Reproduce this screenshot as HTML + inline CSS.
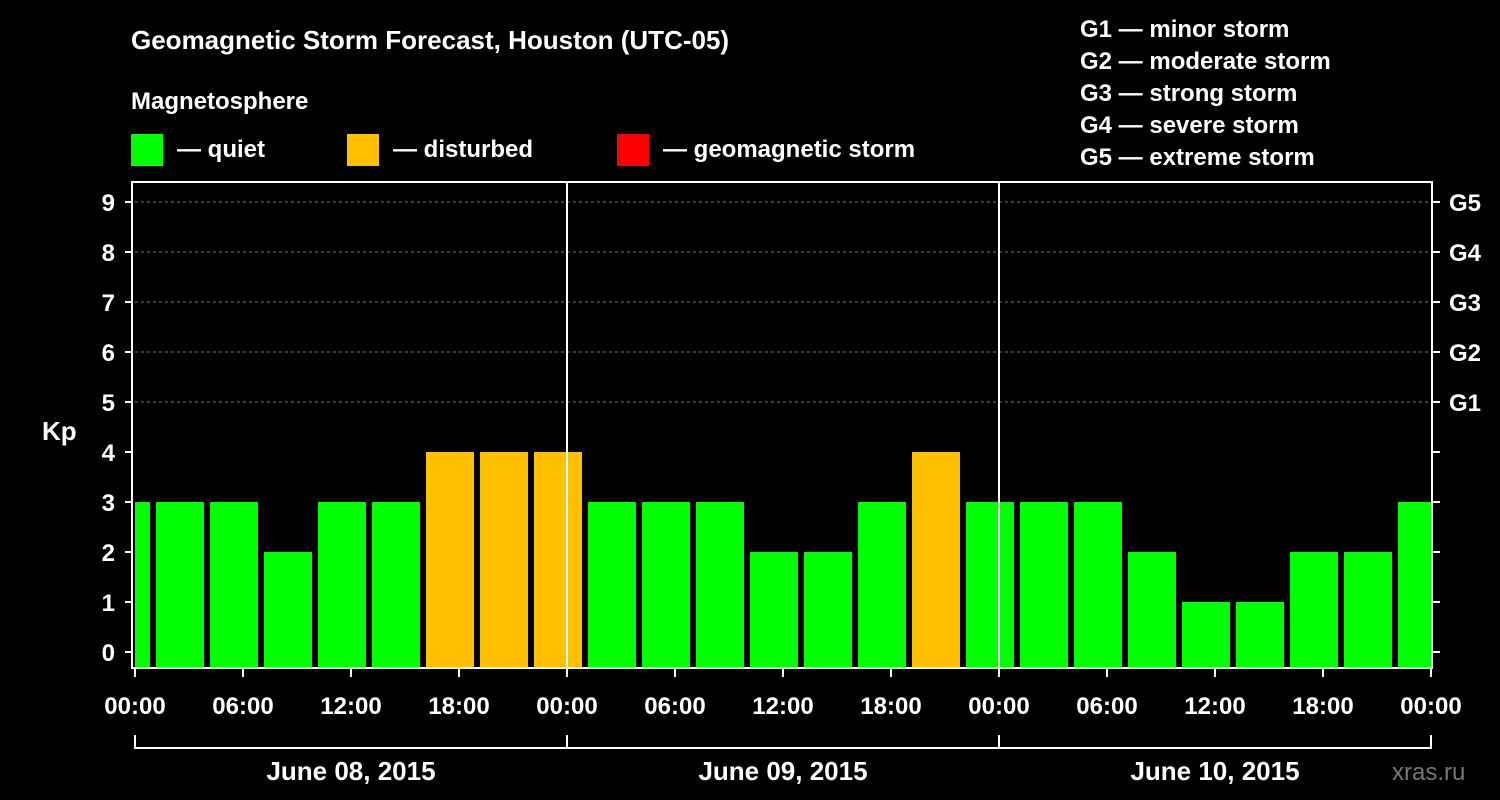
<!DOCTYPE html>
<html><head><meta charset="utf-8"><style>
body{margin:0;background:#000;}
svg{display:block;font-family:"Liberation Sans",Arial,sans-serif;font-weight:bold;}
</style></head><body>
<svg id="c" width="1500" height="800" xmlns="http://www.w3.org/2000/svg">
<rect width="1500" height="800" fill="#000"/>
<text x="131" y="49" fill="#fff" font-size="26">Geomagnetic Storm Forecast, Houston (UTC-05)</text>
<text x="131" y="109" fill="#fff" font-size="24">Magnetosphere</text>
<g><rect x="131" y="134" width="32" height="32" fill="#00ff00"/><text x="177" y="157" fill="#fff" font-size="24">— quiet</text></g>
<g><rect x="347" y="134" width="32" height="32" fill="#ffc000"/><text x="393" y="157" fill="#fff" font-size="24">— disturbed</text></g>
<g><rect x="617" y="134" width="32" height="32" fill="#ff0000"/><text x="663" y="157" fill="#fff" font-size="24">— geomagnetic storm</text></g>
<g fill="#fff" font-size="24">
<text x="1080" y="37">G1 — minor storm</text><text x="1080" y="69">G2 — moderate storm</text><text x="1080" y="101">G3 — strong storm</text><text x="1080" y="133">G4 — severe storm</text><text x="1080" y="165">G5 — extreme storm</text></g>
<g id="grid"></g><g id="bars"></g><g id="axes"></g>
<text x="42" y="440" fill="#fff" font-size="26">Kp</text>
<text x="1392" y="780" fill="#777" font-size="24" font-weight="normal">xras.ru</text>
</svg>
<script>
const kpValues=[3,3,3,2,3,3,4,4,4,3,3,3,2,2,3,4,3,3,3,2,1,1,2,2,3];
const kpStartHours=[-2,1,4,7,10,13,16,19,22,25,28,31,34,37,40,43,46,49,52,55,58,61,64,67,70];
const dayLabels=["June 08, 2015","June 09, 2015","June 10, 2015"];
const xTickLabels=["00:00","06:00","12:00","18:00","00:00","06:00","12:00","18:00","00:00","06:00","12:00","18:00","00:00"];
const yTicks=[0,1,2,3,4,5,6,7,8,9];
const gLabels=[[5,"G1"],[6,"G2"],[7,"G3"],[8,"G4"],[9,"G5"]];
const NS="http://www.w3.org/2000/svg";
const X0=135,PXH=18,TOTAL=72,PT=182,PB=668;
const x=h=>X0+h*PXH, y=v=>652-v*50;
function mk(p,t,a){const e=document.createElementNS(NS,t);for(const k in a)e.setAttribute(k,a[k]);p.appendChild(e);return e;}
const grid=document.getElementById('grid'),bars=document.getElementById('bars'),axes=document.getElementById('axes');
[5,6,7,8,9].forEach(v=>{const l=mk(grid,'line',{x1:x(0),x2:x(TOTAL),y1:y(v),y2:y(v),stroke:'#777','stroke-dasharray':'3,3'});

});
kpValues.forEach((v,i)=>{const s=Math.max(0,kpStartHours[i]),e=Math.min(TOTAL,kpStartHours[i]+3);
let x1=x(s)+(kpStartHours[i]<0?0:3),x2=x(e)-(kpStartHours[i]+3>TOTAL?0:3);
const c=v>=5?'#ff0000':v>=4?'#ffc000':'#00ff00';
const r=mk(bars,'rect',{x:x1,y:y(v),width:x2-x1,height:PB-y(v),fill:c});

});
mk(axes,'rect',{x:x(0)-3,y:PT,width:x(TOTAL)-x(0)+4,height:PB-PT,fill:'none',stroke:'#fff','stroke-width':2});
[24,48].forEach(h=>mk(axes,'line',{x1:x(h),x2:x(h),y1:PT,y2:PB,stroke:'#fff','stroke-width':2}));
yTicks.forEach(v=>{mk(axes,'line',{x1:x(0)-10,x2:x(0)-3,y1:y(v),y2:y(v),stroke:'#fff','stroke-width':2});
mk(axes,'line',{x1:x(TOTAL)+1,x2:x(TOTAL)+9,y1:y(v),y2:y(v),stroke:'#fff','stroke-width':2});
const t=mk(axes,'text',{x:x(0)-20,y:y(v)+9,fill:'#fff','font-size':24,'text-anchor':'end'});t.textContent=v;

});
gLabels.forEach(g=>{const t=mk(axes,'text',{x:x(TOTAL)+18,y:y(g[0])+9,fill:'#fff','font-size':24});t.textContent=g[1];

});
xTickLabels.forEach((l,i)=>{const h=i*6;mk(axes,'line',{x1:x(h),x2:x(h),y1:PB,y2:PB+9,stroke:'#fff','stroke-width':2});
const t=mk(axes,'text',{x:x(h),y:714,fill:'#fff','font-size':24,'text-anchor':'middle'});t.textContent=l;

});
mk(axes,'line',{x1:x(0),x2:x(TOTAL),y1:748,y2:748,stroke:'#fff','stroke-width':2});
[0,24,48,72].forEach(h=>mk(axes,'line',{x1:x(h),x2:x(h),y1:735,y2:749,stroke:'#fff','stroke-width':2}));
dayLabels.forEach((d,i)=>{const t=mk(axes,'text',{x:x(i*24+12),y:780,fill:'#fff','font-size':26,'text-anchor':'middle'});t.textContent=d;

});
</script>
</body></html>
